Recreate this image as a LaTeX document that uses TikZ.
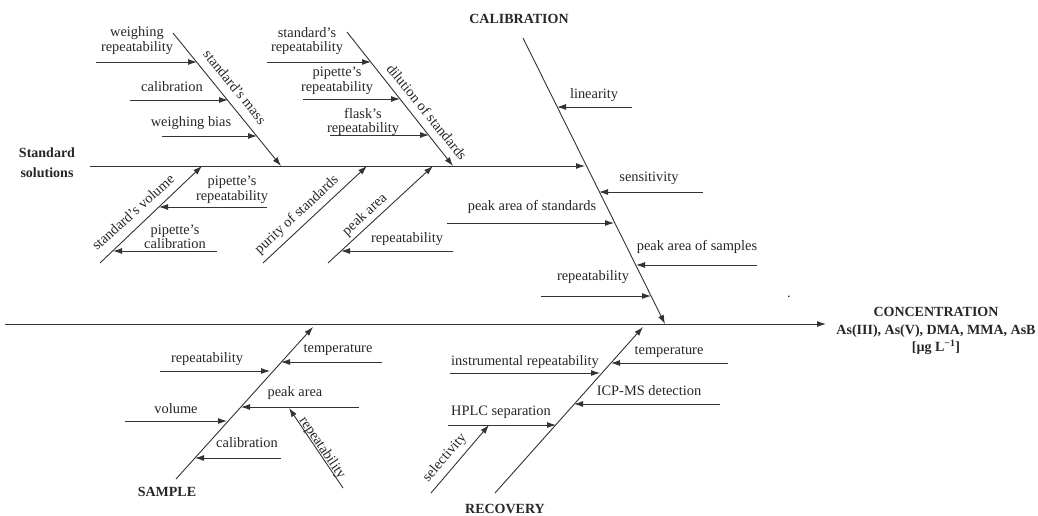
\documentclass[tikz,border=0pt]{standalone}
\usepackage{fontspec}
\setmainfont{Liberation Serif}
\usetikzlibrary{arrows.meta}

\tikzset{
  bone/.style={draw=black!80, line width=0.9pt},
  cause/.style={bone, -{Latex[length=9pt,width=6pt]}},
  lbl/.style={font=\fontsize{14.4}{14.5}\selectfont, text=black!85, inner sep=1pt, align=center},
  head/.style={lbl, font=\bfseries\fontsize{14}{17.5}\selectfont},
}

\begin{document}
\begin{tikzpicture}[x=1pt,y=-1pt]
  \useasboundingbox (0,0) rectangle (1038,516);

  % Main spine and the two big bones
  \coordinate (m0) at (5,324);   \coordinate (m1) at (826,324);
  \coordinate (c0) at (523,38);  \coordinate (c1) at (665,324);
  \coordinate (s0) at (90,166);  \coordinate (s1) at (585,166);
  \draw[cause] (m0) -- (m1);
  \draw[cause] (c0) -- (c1);
  \draw[cause] (s0) -- (s1);

  % Standard solutions: standard's mass
  \coordinate (sm0) at (173,33);  \coordinate (sm1) at (281,166);
  \coordinate (wr0) at (96,62);   \coordinate (wr1) at (197,62);
  \coordinate (ca0) at (130,100); \coordinate (ca1) at (228,100);
  \coordinate (wb0) at (162,136); \coordinate (wb1) at (257,136);
  \draw[cause] (sm0) -- (sm1);
  \draw[cause] (wr0) -- (wr1);
  \draw[cause] (ca0) -- (ca1);
  \draw[cause] (wb0) -- (wb1);

  % Standard solutions: standard's volume
  \coordinate (sv0) at (100,263); \coordinate (sv1) at (202,166);
  \coordinate (pr0) at (267,207); \coordinate (pr1) at (159,207);
  \coordinate (pc0) at (217,251); \coordinate (pc1) at (113,251);
  \draw[cause] (sv0) -- (sv1);
  \draw[cause] (pr0) -- (pr1);
  \draw[cause] (pc0) -- (pc1);

  % Purity and peak area
  \coordinate (pu0) at (263,263); \coordinate (pu1) at (367,166);
  \coordinate (pa0) at (328,263); \coordinate (pa1) at (433,166);
  \coordinate (rp0) at (453,251); \coordinate (rp1) at (341,251);
  \draw[cause] (pu0) -- (pu1);
  \draw[cause] (pa0) -- (pa1);
  \draw[cause] (rp0) -- (rp1);

  % Dilution of standards
  \coordinate (di0) at (347,32);  \coordinate (di1) at (453,166);
  \coordinate (sr0) at (267,62);  \coordinate (sr1) at (371,62);
  \coordinate (pp0) at (303,99);  \coordinate (pp1) at (400,99);
  \coordinate (fr0) at (330,135); \coordinate (fr1) at (429,135);
  \draw[cause] (di0) -- (di1);
  \draw[cause] (sr0) -- (sr1);
  \draw[cause] (pp0) -- (pp1);
  \draw[cause] (fr0) -- (fr1);

  % Calibration causes
  \coordinate (li0) at (632,107); \coordinate (li1) at (557,107);
  \coordinate (se0) at (703,192); \coordinate (se1) at (599,192);
  \coordinate (ps0) at (447,223); \coordinate (ps1) at (614,223);
  \coordinate (pm0) at (757,265); \coordinate (pm1) at (636,265);
  \coordinate (cr0) at (541,296); \coordinate (cr1) at (651,296);
  \draw[cause] (li0) -- (li1);
  \draw[cause] (se0) -- (se1);
  \draw[cause] (ps0) -- (ps1);
  \draw[cause] (pm0) -- (pm1);
  \draw[cause] (cr0) -- (cr1);

  % Sample
  \coordinate (sa0) at (176,479); \coordinate (sa1) at (313,327);
  \coordinate (te0) at (382,362); \coordinate (te1) at (281,362);
  \coordinate (sp0) at (160,371); \coordinate (sp1) at (270,371);
  \coordinate (sk0) at (359,407); \coordinate (sk1) at (241,407);
  \coordinate (vo0) at (125,421); \coordinate (vo1) at (227,421);
  \coordinate (sc0) at (281,458); \coordinate (sc1) at (195,458);
  \coordinate (sq0) at (343,488); \coordinate (sq1) at (289,408);
  \draw[cause] (sa0) -- (sa1);
  \draw[cause] (te0) -- (te1);
  \draw[cause] (sp0) -- (sp1);
  \draw[cause] (sk0) -- (sk1);
  \draw[cause] (vo0) -- (vo1);
  \draw[cause] (sc0) -- (sc1);
  \draw[cause] (sq0) -- (sq1);

  % Recovery
  \coordinate (re0) at (495,493); \coordinate (re1) at (643,327);
  \coordinate (rt0) at (728,363); \coordinate (rt1) at (611,363);
  \coordinate (ir0) at (450,373); \coordinate (ir1) at (600,373);
  \coordinate (ic0) at (720,404); \coordinate (ic1) at (574,404);
  \coordinate (hp0) at (448,425); \coordinate (hp1) at (556,425);
  \coordinate (sl0) at (431,493); \coordinate (sl1) at (489,425);
  \draw[cause] (re0) -- (re1);
  \draw[cause] (rt0) -- (rt1);
  \draw[cause] (ir0) -- (ir1);
  \draw[cause] (ic0) -- (ic1);
  \draw[cause] (hp0) -- (hp1);
  \draw[cause] (sl0) -- (sl1);

  % Headings
  \node[head] (hCal) at (519,19) {CALIBRATION};
  \node[head, font=\bfseries\fontsize{14}{20}\selectfont] (hStd) at (47,163) {Standard\\solutions};
  \node[head] (hSam) at (167,492) {SAMPLE};
  \node[head] (hRec) at (505,509) {RECOVERY};
  \node[head] (hCon) at (936,331) {CONCENTRATION\\As(III), As(V), DMA, MMA, AsB\\{}[µg L\textsuperscript{−1}]};
  \node[lbl] (dot) at (789,297) {.};

  % Labels, standard solutions
  \node[lbl] (tWr) at (137,40.5) {weighing\\repeatability};
  \node[lbl] (tCa) at (172,87) {calibration};
  \node[lbl] (tWb) at (191,123) {weighing bias};
  \node[lbl, rotate=-51] (tSm) at (235,87) {standard's mass};
  \node[lbl, rotate=42] (tSv) at (133,212) {standard's volume};
  \node[lbl] (tPr) at (232,190) {pipette's\\repeatability};
  \node[lbl] (tPc) at (175,237) {pipette's\\calibration};
  \node[lbl, rotate=42.7] (tPu) at (297,215) {purity of standards};
  \node[lbl, rotate=42.4] (tPa) at (365,215) {peak area};
  \node[lbl] (tRp) at (407,239) {repeatability};
  \node[lbl, rotate=-51] (tDi) at (427,112) {dilution of standards};
  \node[lbl] (tSr) at (307,41) {standard's\\repeatability};
  \node[lbl] (tPp) at (337,81) {pipette's\\repeatability};
  \node[lbl] (tFr) at (363,122) {flask's\\repeatability};

  % Labels, calibration
  \node[lbl] (tLi) at (594,95) {linearity};
  \node[lbl] (tSe) at (649,178) {sensitivity};
  \node[lbl] (tPs) at (532,207) {peak area of standards};
  \node[lbl] (tPm) at (697,247) {peak area of samples};
  \node[lbl] (tCr) at (593,277) {repeatability};

  % Labels, sample
  \node[lbl] (tTe) at (338,350) {temperature};
  \node[lbl] (tSp) at (207,359) {repeatability};
  \node[lbl] (tSk) at (295,393) {peak area};
  \node[lbl] (tVo) at (176,409) {volume};
  \node[lbl] (tSc) at (247,443) {calibration};
  \node[lbl, rotate=-56] (tSq) at (322,448) {repeatability};

  % Labels, recovery
  \node[lbl] (tRt) at (669,352) {temperature};
  \node[lbl] (tIr) at (525,362) {instrumental repeatability};
  \node[lbl] (tIc) at (649,391) {ICP-MS detection};
  \node[lbl] (tHp) at (501,412) {HPLC separation};
  \node[lbl, rotate=49.5] (tSl) at (445,458) {selectivity};
\end{tikzpicture}
\end{document}
